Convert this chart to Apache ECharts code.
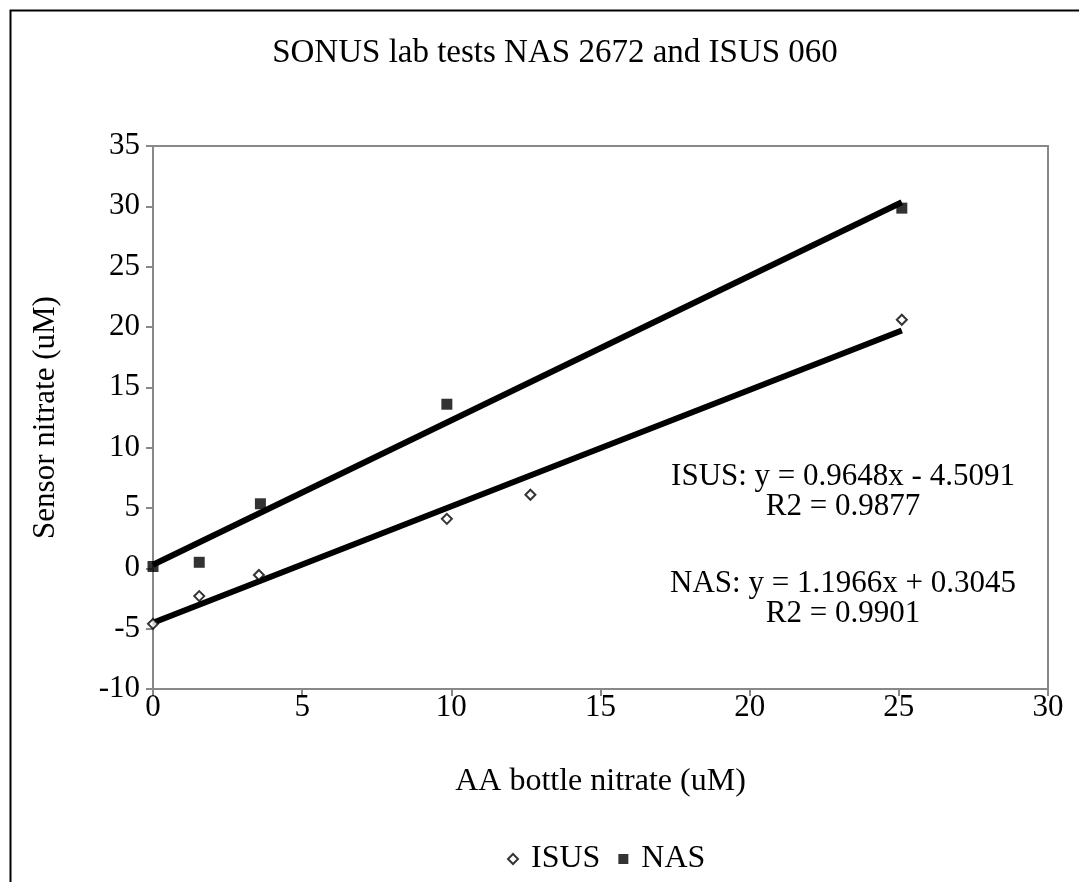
<!DOCTYPE html>
<html>
<head>
<meta charset="utf-8">
<script src="https://cdn.jsdelivr.net/npm/echarts@6/dist/echarts.min.js"></script>
<style>html,body{margin:0;padding:0;background:#fff;}#c{width:1079px;height:882px;}</style>
</head>
<body>
<div id="c"></div>
<script>
const isusX = [0, 1.55, 3.55, 9.85, 12.65, 25.1];
const isusY = [-4.6, -2.3, -0.55, 4.1, 6.1, 20.6];
const nasX = [0, 1.55, 3.6, 9.85, 25.1];
const nasY = [0.15, 0.5, 5.35, 13.6, 29.85];
const isusTrendX = [0, 25.1];
const isusTrendY = [-4.51, 19.71];
const nasTrendX = [0, 25.1];
const nasTrendY = [0.30, 30.34];
const yTicks = [-10, -5, 0, 5, 10, 15, 20, 25, 30, 35];
const xTicks = [0, 5, 10, 15, 20, 25, 30];
const annotations = ['ISUS: y = 0.9648x - 4.5091', 'R2 = 0.9877', 'NAS: y = 1.1966x + 0.3045', 'R2 = 0.9901'];

const FONT = 'Liberation Serif';
const zip = (xs, ys) => xs.map((x, i) => [x, ys[i]]);
const annY = [477, 507, 584, 614];

const chart = echarts.init(document.getElementById('c'), null, {renderer: 'canvas'});
chart.setOption({
  backgroundColor: '#fff',
  animation: false,
  title: {
    text: 'SONUS lab tests NAS 2672 and ISUS 060',
    left: 550, top: 32, textAlign: 'center',
    textStyle: {fontFamily: FONT, fontSize: 33, fontWeight: 'normal', color: '#000'}
  },
  grid: {left: 153, top: 146, right: 31, bottom: 193, show: true, borderColor: '#888', borderWidth: 2},
  xAxis: {
    type: 'value', min: xTicks[0], max: xTicks[xTicks.length - 1], interval: 5,
    name: 'AA bottle nitrate (uM)', nameLocation: 'middle', nameGap: 77,
    nameTextStyle: {fontFamily: FONT, fontSize: 32, color: '#000'},
    axisLine: {show: true, onZero: false, lineStyle: {color: '#888', width: 2}},
    axisTick: {show: true, length: 7, lineStyle: {color: '#888', width: 2}},
    axisLabel: {fontFamily: FONT, fontSize: 31, color: '#000', margin: 3},
    splitLine: {show: false}
  },
  yAxis: {
    type: 'value', min: yTicks[0], max: yTicks[yTicks.length - 1], interval: 5,
    name: 'Sensor nitrate (uM)', nameLocation: 'middle', nameGap: 92,
    nameTextStyle: {fontFamily: FONT, fontSize: 31, color: '#000'},
    axisLine: {show: true, onZero: false, lineStyle: {color: '#888', width: 2}},
    axisTick: {show: true, length: 7, lineStyle: {color: '#888', width: 2}},
    axisLabel: {fontFamily: FONT, fontSize: 31, color: '#000', margin: 13},
    splitLine: {show: false}
  },
  legend: {
    data: [{name: 'ISUS', icon: 'diamond'}, {name: 'NAS', icon: 'rect'}],
    formatter: name => ' ' + name,
    left: 502, top: 838, itemWidth: 10, itemHeight: 10, itemGap: 18,
    textStyle: {fontFamily: FONT, fontSize: 32, color: '#000'}
  },
  graphic: [
    {type: 'rect', left: 8, top: 8, shape: {width: 1200, height: 1000}, style: {fill: 'none', stroke: '#000', lineWidth: 2}, z: 100},
    ...annotations.map((t, i) => ({
      type: 'text', x: 843, y: annY[i],
      style: {text: t, fontFamily: FONT, fontSize: 31, fill: '#000', textAlign: 'center', textVerticalAlign: 'middle'}
    }))
  ],
  series: [
    {name: 'ISUS trend', type: 'line', data: zip(isusTrendX, isusTrendY), showSymbol: false, symbol: 'none', lineStyle: {color: '#000', width: 6}, z: 2, silent: true},
    {name: 'NAS trend', type: 'line', data: zip(nasTrendX, nasTrendY), showSymbol: false, symbol: 'none', lineStyle: {color: '#000', width: 6}, z: 2, silent: true},
    {name: 'ISUS', type: 'scatter', data: zip(isusX, isusY), symbol: 'diamond', symbolSize: 10, itemStyle: {color: '#fff', borderColor: '#000', borderWidth: 2}, z: 3},
    {name: 'NAS', type: 'scatter', data: zip(nasX, nasY), symbol: 'rect', symbolSize: 11, itemStyle: {color: '#000'}, z: 3}
  ]
});
</script>
</body>
</html>
